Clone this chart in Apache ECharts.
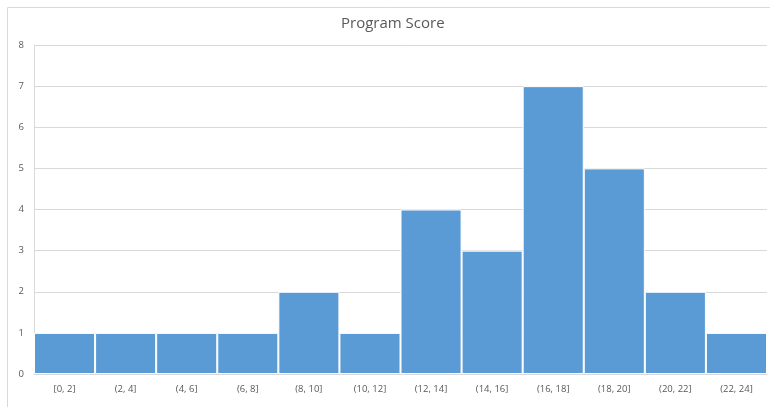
<!DOCTYPE html>
<html>
<head>
<meta charset="utf-8">
<script src="https://cdn.jsdelivr.net/npm/echarts@6/dist/echarts.min.js"></script>
<style>html,body{margin:0;padding:0;background:#fff}#c{width:770px;height:407px}</style>
</head>
<body>
<div id="c"></div>
<script>
const categories = ['[0, 2]','(2, 4]','(4, 6]','(6, 8]','(8, 10]','(10, 12]','(12, 14]','(14, 16]','(16, 18]','(18, 20]','(20, 22]','(22, 24]'];
const counts = [1,1,1,1,2,1,4,3,7,5,2,1];
const yTicks = {min:0, max:8, interval:1};

const chart = echarts.init(document.getElementById('c'), null, {renderer:'canvas'});
chart.setOption({
  animation:false,
  graphic:[{type:'rect', shape:{x:7.5,y:7.5,width:800,height:450}, style:{fill:'none', stroke:'#d9d9d9', lineWidth:1}, silent:true}],
  title:{text:'Program Score', left:336, top:11, textStyle:{fontFamily:'Open Sans', fontSize:15, fontWeight:'normal', color:'#595959'}},
  grid:{left:34, right:3, top:45, bottom:33},
  xAxis:{type:'category', data:categories,
    axisLine:{lineStyle:{color:'#d9d9d9'}}, axisTick:{show:false},
    axisLabel:{color:'#595959', fontFamily:'Open Sans', fontSize:9.5, margin:10, interval:0}},
  yAxis:{type:'value', min:yTicks.min, max:yTicks.max, interval:yTicks.interval,
    axisLine:{show:true, lineStyle:{color:'#d9d9d9'}}, axisTick:{show:false},
    splitLine:{lineStyle:{color:'#d9d9d9'}},
    axisLabel:{color:'#595959', fontFamily:'Open Sans', fontSize:9.5, margin:10}},
  series:[{type:'bar', data:counts, barCategoryGap:'0%',
    itemStyle:{color:'#5b9bd5', borderColor:'#ffffff', borderWidth:1}}]
});
</script>
</body>
</html>
